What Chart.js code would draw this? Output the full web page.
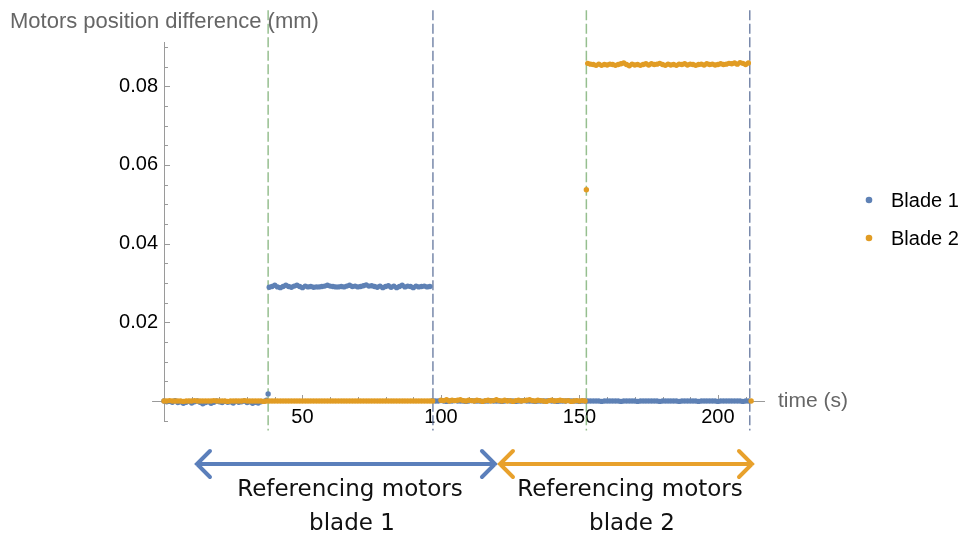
<!DOCTYPE html>
<html>
<head>
<meta charset="utf-8">
<script src="https://cdn.jsdelivr.net/npm/chart.js"></script>
<style>
  html, body { margin: 0; padding: 0; background: #fff; }
</style>
</head>
<body>
<canvas id="chart" width="967" height="538"></canvas>
<script>
// ---- data (mm), sampled once per second, each run starts at its start time ----
const seriesNames = ['Blade 1', 'Blade 2'];

const blade1Start = [0, 38, 97];
const blade1Idle1 = [
  0.0000, -0.0002, -0.0001, -0.0003, 0.0001, -0.0004, -0.0002, -0.0006, -0.0003, -0.0001,
  -0.0005, -0.0002, 0.0000, -0.0003, -0.0007, -0.0004, -0.0002, -0.0006, -0.0003, 0.0000,
  -0.0002, -0.0004, -0.0001, -0.0003, -0.0002, -0.0005, -0.0001, -0.0003, -0.0002, 0.0000,
  -0.0004, -0.0002, -0.0006, -0.0003, -0.0005, -0.0002, -0.0001, 0.0002
];
const blade1Referencing = [
  0.0289, 0.0291, 0.0294, 0.0290, 0.0288, 0.0291, 0.0294, 0.0291, 0.0289, 0.0292,
  0.0294, 0.0291, 0.0288, 0.0292, 0.0290, 0.0291, 0.0289, 0.0290, 0.0290, 0.0291,
  0.0292, 0.0294, 0.0292, 0.0291, 0.0290, 0.0290, 0.0291, 0.0290, 0.0292, 0.0294,
  0.0291, 0.0292, 0.0290, 0.0291, 0.0293, 0.0295, 0.0292, 0.0293, 0.0291, 0.0289,
  0.0292, 0.0288, 0.0291, 0.0293, 0.0289, 0.0292, 0.0288, 0.0291, 0.0294, 0.0290,
  0.0292, 0.0291, 0.0288, 0.0292, 0.0290, 0.0291, 0.0292, 0.0290, 0.0291
];
const blade1Idle2 = [
  0.0001, 0.0000, 0.0000, 0.0001, 0.0000, -0.0001, 0.0000, 0.0000, 0.0001, 0.0000,
  0.0000, 0.0000, -0.0001, 0.0000, 0.0001, 0.0000, 0.0000, 0.0000, -0.0001, 0.0000,
  0.0000, 0.0001, 0.0000, 0.0000, 0.0000, -0.0001, 0.0000, 0.0001, 0.0000, 0.0000,
  -0.0001, 0.0000, 0.0000, 0.0001, 0.0000, 0.0000, 0.0000, -0.0001, 0.0000, 0.0000,
  0.0000, 0.0000, 0.0001, 0.0000, 0.0000, -0.0001, 0.0000, 0.0000, 0.0000, 0.0001,
  0.0000, 0.0000, 0.0000, -0.0001, 0.0000, 0.0000, 0.0000, 0.0000, 0.0000, 0.0000,
  0.0000, -0.0001, 0.0000, 0.0000, 0.0000, 0.0000, 0.0000, 0.0000, -0.0001, 0.0000,
  0.0000, 0.0000, 0.0000, 0.0000, -0.0001, 0.0000, 0.0000, 0.0000, 0.0000, 0.0000,
  0.0000, 0.0000, -0.0001, 0.0000, 0.0000, 0.0000, 0.0000, 0.0000, 0.0000, -0.0001,
  0.0000, 0.0000, 0.0000, 0.0000, 0.0000, 0.0000, -0.0001, 0.0000, 0.0000, 0.0000,
  0.0000, 0.0000, 0.0000, -0.0001, 0.0000, 0.0000, 0.0000, 0.0000, 0.0000, 0.0000,
  0.0000, 0.0000, -0.0001, 0.0000, 0.0000
];
const blade1Extra = [[37.6, 0.0018]];

const blade2Start = [0, 100, 153];
const blade2Idle1 = [
  0.0000, 0.0000, 0.0001, 0.0000, 0.0000, 0.0000, 0.0000, -0.0001, 0.0000, 0.0000,
  0.0000, 0.0001, 0.0000, 0.0000, 0.0000, 0.0000, 0.0000, 0.0000, 0.0001, 0.0000,
  0.0000, 0.0000, 0.0000, -0.0001, 0.0000, 0.0000, 0.0000, 0.0000, 0.0000, 0.0001,
  0.0000, 0.0000, 0.0000, 0.0000, 0.0000, 0.0000, -0.0001, 0.0000, 0.0000, 0.0000,
  0.0000, 0.0000, 0.0000, 0.0000, 0.0000, 0.0000, 0.0000, 0.0000, 0.0000, 0.0000,
  0.0000, 0.0000, 0.0000, 0.0000, 0.0000, 0.0000, 0.0000, 0.0000, 0.0000, 0.0000,
  0.0000, 0.0000, 0.0000, 0.0000, 0.0000, 0.0000, 0.0000, 0.0000, 0.0000, 0.0000,
  0.0000, 0.0000, 0.0000, 0.0000, 0.0000, 0.0000, 0.0000, 0.0000, 0.0000, 0.0000,
  0.0000, 0.0000, 0.0000, 0.0000, 0.0000, 0.0000, 0.0000, 0.0000, 0.0000, 0.0000,
  0.0000, 0.0000, 0.0000, 0.0000, 0.0000, 0.0000, 0.0000, 0.0000
];
const blade2Idle2 = [
  0.0002, 0.0001, 0.0003, 0.0000, 0.0002, 0.0001, 0.0002, 0.0003, 0.0001, 0.0000,
  0.0002, 0.0001, 0.0000, 0.0002, 0.0001, -0.0001, 0.0001, 0.0002, 0.0000, 0.0001,
  0.0003, 0.0001, 0.0000, 0.0002, 0.0000, 0.0001, -0.0001, 0.0001, 0.0002, 0.0000,
  0.0001, 0.0002, 0.0003, 0.0001, 0.0000, 0.0002, 0.0001, 0.0000, -0.0001, 0.0001,
  0.0002, 0.0000, 0.0001, 0.0002, 0.0001, 0.0000, 0.0001, -0.0001, 0.0000, 0.0001,
  0.0000, 0.0001, 0.0000
];
const blade2Referencing = [
  0.0858, 0.0856, 0.0855, 0.0853, 0.0856, 0.0853, 0.0855, 0.0854, 0.0856, 0.0855,
  0.0853, 0.0855, 0.0857, 0.0859, 0.0855, 0.0852, 0.0856, 0.0854, 0.0855, 0.0853,
  0.0855, 0.0857, 0.0854, 0.0857, 0.0855, 0.0856, 0.0858, 0.0855, 0.0853, 0.0856,
  0.0854, 0.0855, 0.0853, 0.0856, 0.0855, 0.0857, 0.0854, 0.0856, 0.0855, 0.0853,
  0.0855, 0.0856, 0.0854, 0.0857, 0.0855, 0.0856, 0.0854, 0.0855, 0.0857, 0.0855,
  0.0856, 0.0858, 0.0857, 0.0859, 0.0856, 0.0860, 0.0858, 0.0855, 0.0859
];
const blade2Extra = [[152.5, 0.0537], [212, 0.0000]];

// vertical guides: start / end of each referencing run
const guideTimes = [37.6, 97.1, 152.5, 211.5];
const guideKinds = ['start', 'end', 'start', 'end'];

// arrows under the axis
const spanFrom = [11.9, 121.3];
const spanTo = [119.5, 212.3];
const spanText = [['Referencing motors', 'blade 1'], ['Referencing motors', 'blade 2']];

const yTicks = [0.02, 0.04, 0.06, 0.08];
const xTicks = [50, 100, 150, 200];

// ---- build points ----
function runs(starts, lists, extra) {
  const pts = [];
  lists.forEach((vals, k) => {
    vals.forEach((v, i) => pts.push({ x: starts[k] + i, y: v }));
  });
  extra.forEach(p => pts.push({ x: p[0], y: p[1] }));
  return pts;
}

const blue = '#5e81b5';
const orange = '#e19c24';
const font = '"Liberation Sans", Arial, sans-serif';

const overlay = {
  id: 'overlay',
  beforeDatasetsDraw(chart) {
    const { ctx, scales: { x, y } } = chart;
    const x0 = x.getPixelForValue(0);
    const y0 = y.getPixelForValue(0);
    ctx.save();

    // dashed guides
    ctx.lineWidth = 1.5;
    ctx.setLineDash([10, 3.5]);
    guideTimes.forEach((t, i) => {
      const px = x.getPixelForValue(t);
      ctx.strokeStyle = guideKinds[i] === 'start' ? 'rgba(115,170,105,0.75)' : 'rgba(95,115,155,0.85)';
      ctx.beginPath();
      ctx.moveTo(px, y.getPixelForValue(0.0993));
      ctx.lineTo(px, y.getPixelForValue(-0.0075));
      ctx.stroke();
    });
    ctx.setLineDash([]);

    // axes
    ctx.strokeStyle = '#9a9a9a';
    ctx.lineWidth = 1;
    ctx.beginPath();
    ctx.moveTo(x.getPixelForValue(-4.3), Math.round(y0) + 0.5);
    ctx.lineTo(x.right, Math.round(y0) + 0.5);
    ctx.moveTo(Math.round(x0) + 0.5, y.top);
    ctx.lineTo(Math.round(x0) + 0.5, y.getPixelForValue(-0.0051));
    ctx.stroke();

    // y ticks, pointing into the plot
    for (let k = -1; k <= 18; k++) {
      const v = k * 0.005;
      const py = Math.round(y.getPixelForValue(v)) + 0.5;
      if (k === 0) continue;
      const len = (k % 4 === 0) ? 6 : 4;
      ctx.beginPath();
      ctx.moveTo(x0, py);
      ctx.lineTo(x0 + len, py);
      ctx.stroke();
    }
    // x ticks, pointing up
    for (let t = 10; t <= 210; t += 10) {
      const px = Math.round(x.getPixelForValue(t)) + 0.5;
      const len = (t % 50 === 0) ? 6 : 4;
      ctx.beginPath();
      ctx.moveTo(px, y0);
      ctx.lineTo(px, y0 - len);
      ctx.stroke();
    }
    ctx.restore();
  },
  afterDraw(chart) {
    const { ctx, scales: { x, y } } = chart;
    const y0 = y.getPixelForValue(0);
    ctx.save();

    // axis labels
    ctx.fillStyle = '#666';
    ctx.textBaseline = 'middle';
    ctx.textAlign = 'left';
    ctx.font = '22px ' + font;
    ctx.fillText('Motors position difference (mm)', 10, 22);
    ctx.font = '21px ' + font;
    ctx.fillText('time (s)', x.right + 13, y0);

    // legend
    const colors = [blue, orange];
    ctx.font = '20px ' + font;
    seriesNames.forEach((name, i) => {
      const ly = 200 + i * 38;
      ctx.fillStyle = colors[i];
      ctx.beginPath();
      ctx.arc(869, ly, 3.3, 0, Math.PI * 2);
      ctx.fill();
      ctx.fillStyle = '#000';
      ctx.fillText(name, 891, ly + 1);
    });

    // arrows + captions
    const arrowColors = ['#5b7fbb', '#e8a12c'];
    const ay = 464;
    spanFrom.forEach((a, i) => {
      const xa = x.getPixelForValue(a);
      const xb = x.getPixelForValue(spanTo[i]);
      ctx.strokeStyle = arrowColors[i];
      ctx.lineWidth = 4;
      ctx.lineCap = 'round';
      ctx.lineJoin = 'miter';
      ctx.beginPath();
      ctx.moveTo(xa, ay);
      ctx.lineTo(xb, ay);
      ctx.moveTo(xa + 13, ay - 13);
      ctx.lineTo(xa, ay);
      ctx.lineTo(xa + 13, ay + 13);
      ctx.moveTo(xb - 13, ay - 13);
      ctx.lineTo(xb, ay);
      ctx.lineTo(xb - 13, ay + 13);
      ctx.stroke();

      ctx.fillStyle = '#111';
      ctx.textAlign = 'center';
      ctx.font = '23px "DejaVu Sans", Verdana, sans-serif';
      const cx = (xa + xb) / 2 + 4;
      ctx.fillText(spanText[i][0], cx, 490);
      ctx.fillText(spanText[i][1], cx + 2, 524);
    });
    ctx.restore();
  }
};

new Chart(document.getElementById('chart'), {
  type: 'scatter',
  data: {
    datasets: [
      {
        label: seriesNames[0],
        data: runs(blade1Start, [blade1Idle1, blade1Referencing, blade1Idle2], blade1Extra),
        backgroundColor: blue,
        pointRadius: 2.7,
        pointBorderWidth: 0,
        order: 1
      },
      {
        label: seriesNames[1],
        data: runs(blade2Start, [blade2Idle1, blade2Idle2, blade2Referencing], blade2Extra),
        backgroundColor: orange,
        pointRadius: 2.7,
        pointBorderWidth: 0,
        order: 0
      }
    ]
  },
  options: {
    responsive: false,
    animation: false,
    events: [],
    clip: false,
    layout: { padding: { top: 42, right: 202, bottom: 0, left: 0 } },
    plugins: { legend: { display: false }, tooltip: { enabled: false } },
    scales: {
      x: {
        type: 'linear',
        min: 0,
        max: 217,
        afterFit(scale) { scale.height = 137; },
        afterBuildTicks(scale) { scale.ticks = xTicks.map(v => ({ value: v })); },
        grid: { display: false, drawTicks: false },
        border: { display: false },
        ticks: { padding: 4, color: '#000', font: { family: font, size: 20 } }
      },
      y: {
        type: 'linear',
        min: 0,
        max: 0.09123,
        afterFit(scale) { scale.width = 164; },
        afterBuildTicks(scale) { scale.ticks = yTicks.map(v => ({ value: v })); },
        grid: { display: false, drawTicks: false },
        border: { display: false },
        ticks: {
          padding: 6,
          color: '#000',
          font: { family: font, size: 20 },
          callback: v => v.toFixed(2)
        }
      }
    }
  },
  plugins: [overlay]
});
</script>
</body>
</html>
